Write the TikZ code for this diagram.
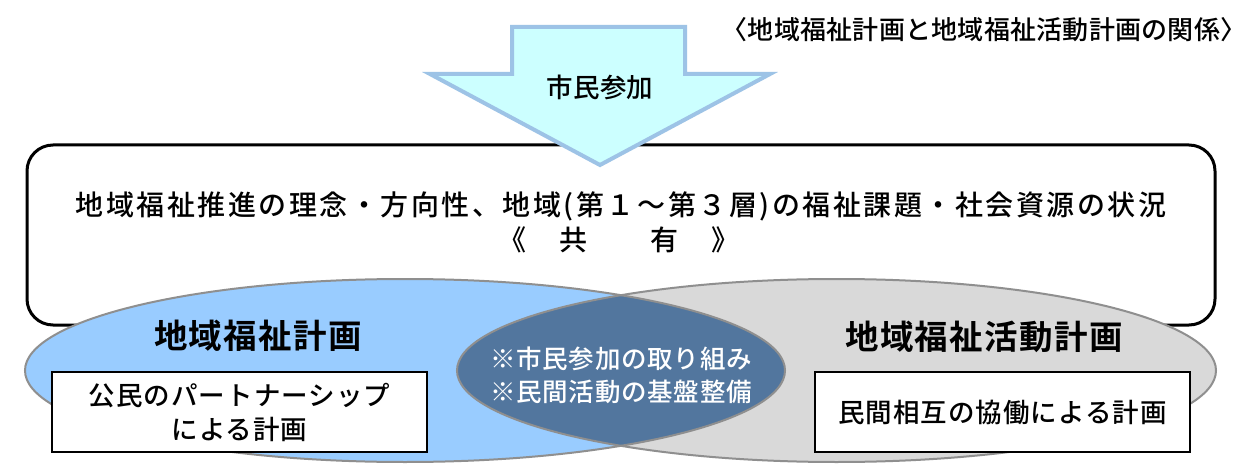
\documentclass[tikz,border=0pt]{standalone}
\usepackage{fontspec}
\setmainfont{Noto Sans CJK JP Medium}[BoldFont={Noto Sans CJK JP Bold}]
\usetikzlibrary{shapes.geometric}
\definecolor{arrowfill}{HTML}{CCFFFF}
\definecolor{arrowline}{HTML}{9DC3E6}
\definecolor{lblue}{HTML}{99CCFF}
\definecolor{lgray}{HTML}{D9D9D9}
\definecolor{lensblue}{HTML}{52769E}
\definecolor{outl}{HTML}{8F8F8F}
\tikzset{
  plain/.style={inner sep=0pt, outer sep=0pt},
  bodytext/.style={plain, font=\fontsize{28}{36}\selectfont\addfontfeature{LetterSpace=9}},
  toptitle/.style={plain, font=\fontsize{26}{30}\selectfont\addfontfeature{LetterSpace=1}},
  arrowtext/.style={plain, font=\fontsize{26.5}{30}\selectfont\addfontfeature{LetterSpace=1}},
  bigtitle/.style={plain, font=\fontsize{33.5}{36}\selectfont\bfseries\addfontfeature{LetterSpace=4}},
  planbox/.style={draw=black, line width=1.5pt, fill=white, minimum width=375pt, minimum height=80pt,
    inner sep=0pt, align=center, font=\fontsize{26.5}{34}\selectfont\addfontfeature{LetterSpace=4}},
  midtext/.style={plain, text=white, align=center, font=\fontsize{25.5}{33}\selectfont\addfontfeature{LetterSpace=3}},
  ellfill/.style={line width=2pt, draw=outl},
}
\begin{document}
\begin{tikzpicture}[x=1pt,y=-1pt]
\useasboundingbox (0,0) rectangle (1248,476);
\fill[white] (0,0) rectangle (1248,476);
% shared frame
\node[draw=black, line width=3pt, rounded corners=26pt, minimum width=1188pt, minimum height=180pt, inner sep=0pt, fill=white] (frame) at (621,235) {};
% ellipses
\coordinate (lc) at (405,370.5);
\coordinate (rc) at (836.5,370.5);
\fill[lblue] (lc) ellipse [x radius=380, y radius=91.5];
\fill[lgray] (rc) ellipse [x radius=379.5, y radius=91.5];
\begin{scope}
  \clip (lc) ellipse [x radius=380, y radius=91.5];
  \fill[lensblue] (rc) ellipse [x radius=379.5, y radius=91.5];
\end{scope}
\draw[ellfill] (lc) ellipse [x radius=380, y radius=91.5];
\draw[ellfill] (rc) ellipse [x radius=379.5, y radius=91.5];
% arrow
\draw[line width=4pt, draw=arrowline, fill=arrowfill, line join=miter]
  (512,27) -- (685,27) -- (685,74) -- (770,74) -- (600,165) -- (430,74) -- (512,74) -- cycle;
\node[arrowtext] (sanka) at (600,87) {市民参加};
% texts
\node[toptitle] (ttl) at (984,30) {〈地域福祉計画と地域福祉活動計画の関係〉};
\node[bodytext] (t1) at (621,206) {地域福祉推進の理念・方向性、地域(第１～第３層)の福祉課題・社会資源の状況};
\node[bodytext] (t2) at (619,240) {《　共　　有　》};
\node[bigtitle] (lt) at (258,336) {地域福祉計画};
\node[bigtitle] (rt) at (984,337) {地域福祉活動計画};
\node[midtext] (mt) at (621,375) {※市民参加の取り組み\\※民間活動の基盤整備};
\node[planbox] (lb) at (239.5,412) {公民のパートナーシップ\\による計画};
\node[planbox] (rb) at (1002.5,412) {民間相互の協働による計画};
\end{tikzpicture}
\end{document}
